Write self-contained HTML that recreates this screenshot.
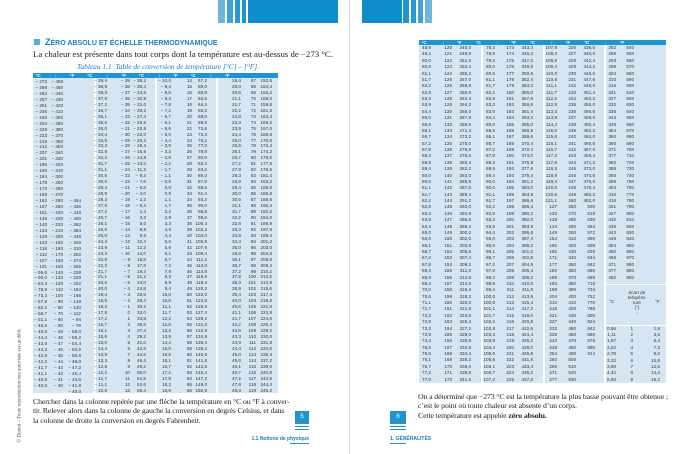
<!DOCTYPE html>
<html><head><meta charset="utf-8"><style>
*{margin:0;padding:0;box-sizing:border-box}
body{width:700px;height:454px;background:#fff;position:relative;overflow:hidden;font-family:"Liberation Serif",serif;color:#222}
.a{position:absolute}
.tb{position:absolute;background:#d5e6f2}
.hd{position:absolute;background:#1e95d0;color:#fff;font:bold 5px "Liberation Sans",sans-serif;}
.c{position:absolute;text-align:right;font-family:"Liberation Sans Narrow","Liberation Sans",sans-serif;font-size:4.6px;color:#333;white-space:pre}
.L .c{line-height:5.96px;top:5px}
.R .c{line-height:6.38px;top:5px}
.sep{position:absolute;top:0;bottom:0;width:2px;background:#fff}
.txt{font-size:7.8px;line-height:9.4px;color:#222;white-space:nowrap;letter-spacing:-0.12px}
</style></head><body>
<div class="a" style="left:218px;top:0;width:7px;height:23px;background:#6fb6dd"></div>
<div class="a" style="left:227px;top:0;width:6px;height:23px;background:#3fa3d6"></div>
<div class="a" style="left:235px;top:0;width:5px;height:23px;background:#2a9ad3"></div>
<div class="a" style="left:242px;top:0;width:4px;height:23px;background:#1e95d0"></div>
<div class="a" style="left:248px;top:0;width:90px;height:23px;background:#0e8ccb"></div>
<div class="a" style="left:362px;top:0;width:40px;height:23px;background:#0e8ccb"></div>
<div class="a" style="left:403px;top:0;width:6px;height:23px;background:#1e95d0"></div>
<div class="a" style="left:411px;top:0;width:5px;height:23px;background:#2a9ad3"></div>
<div class="a" style="left:418px;top:0;width:5px;height:23px;background:#3fa3d6"></div>
<div class="a" style="left:425px;top:0;width:7px;height:23px;background:#6fb6dd"></div>
<div class="a" style="left:349px;top:0;width:1px;height:454px;background:#ddd"></div>

<div class="a" style="left:34px;top:39px;width:6px;height:6px;background:#5aaedb"></div>
<div class="a" style="left:45px;top:37px;font:bold 7px 'Liberation Sans',sans-serif;color:#1a7dc0;white-space:nowrap"><span style="font-size:9px">Z</span>ÉRO ABSOLU ET ÉCHELLE THERMODYNAMIQUE</div>
<div class="a txt" style="left:33px;top:50px;font-size:8.8px;letter-spacing:0">La chaleur est présente dans tout corps dont la température est au-dessus de −273 °C.</div>
<div class="a" style="left:77px;top:62px;font:italic 7.4px 'Liberation Serif',serif;color:#1a7dc0;white-space:nowrap">Tableau 1.1&nbsp; Table de conversion de température [°C] – [°F].</div>

<div class="hd" style="left:33px;top:73px;width:245px;height:5px"></div>
<div class="tb L" style="left:33px;top:78px;width:245px;height:315px">
<div class="sep" style="left:61px"></div><div class="sep" style="left:122px"></div><div class="sep" style="left:183px"></div>
</div>
<div class="a L" style="left:33px;top:73px;width:245px;height:320px">
<div class="c" style="top:-0.5px;left:0;width:245px;line-height:5px;color:#fff;text-align:left;font-weight:bold">  °C           ↓          °F          °C           ↓          °F          °C           ↓          °F          °C           ↓          °F</div>
<div class="c" style="left:0;width:14px;top:6px">− 273
− 268
− 262
− 257
− 251
− 246
− 240
− 234
− 229
− 223
− 218
− 212
− 207
− 201
− 196
− 190
− 184
− 179
− 173
− 168
− 162
− 157
− 151
− 146
− 140
− 134
− 129
− 123
− 118
− 112
− 107
− 101
− 95,6
− 90,0
− 84,4
− 78,9
− 73,3
− 67,8
− 62,2
− 56,7
− 51,1
− 45,6
− 45,0
− 44,4
− 43,9
− 43,3
− 42,8
− 42,2
− 41,7
− 41,1
− 40,6
− 40,0</div>
<div class="c" style="left:0;width:30px;top:6px">− 459
− 450
− 440
− 430
− 420
− 410
− 400
− 390
− 380
− 370
− 360
− 350
− 340
− 330
− 320
− 310
− 300
− 290
− 280
− 270
− 260
− 250
− 240
− 230
− 220
− 210
− 200
− 190
− 180
− 170
− 160
− 150
− 140
− 130
− 120
− 110
− 100
− 90
− 80
− 70
− 60
− 50
− 49
− 48
− 47
− 46
− 45
− 44
− 43
− 42
− 41
− 40</div>
<div class="c" style="left:0;width:48px;top:6px">



















− 454
− 436
− 418
− 400
− 382
− 364
− 346
− 328
− 310
− 292
− 274
− 256
− 238
− 220
− 202
− 184
− 166
− 148
− 130
− 112
− 94
− 76
− 58,0
− 56,2
− 54,4
− 52,6
− 50,8
− 49,0
− 47,2
− 45,4
− 43,6
− 41,8
− 40,0</div>
<div class="c" style="left:61px;width:13px">− 39,4
− 38,9
− 38,3
− 37,8
− 37,2
− 36,7
− 36,1
− 35,6
− 35,0
− 34,4
− 33,9
− 33,3
− 32,8
− 32,2
− 31,7
− 31,1
− 30,6
− 30,0
− 29,4
− 28,9
− 28,3
− 27,8
− 27,2
− 26,7
− 26,1
− 25,6
− 25,0
− 24,4
− 23,9
− 23,3
− 22,8
− 22,2
− 21,7
− 21,1
− 20,6
− 20,0
− 19,4
− 18,9
− 18,3
− 17,8
− 17,2
− 16,7
− 16,1
− 15,6
− 15,0
− 14,4
− 13,9
− 13,3
− 12,8
− 12,2
− 11,7
− 11,1
− 10,6</div>
<div class="c" style="left:61px;width:36px">− 39
− 38
− 37
− 36
− 35
− 34
− 33
− 32
− 31
− 30
− 29
− 28
− 27
− 26
− 25
− 24
− 23
− 22
− 21
− 20
− 19
− 18
− 17
− 16
− 15
− 14
− 13
− 12
− 11
− 10
− 9
− 8
− 7
− 6
− 5
− 4
− 3
− 2
− 1
0
1
2
3
4
5
6
7
8
9
10
11
12
13</div>
<div class="c" style="left:61px;width:52px">− 38,2
− 36,4
− 34,6
− 32,8
− 31,0
− 29,2
− 27,4
− 25,6
− 23,8
− 22,0
− 20,2
− 18,4
− 16,6
− 14,8
− 13,0
− 11,2
− 9,4
− 7,6
− 5,8
− 4,0
− 2,2
− 0,4
1,4
3,2
5,0
6,8
8,6
10,4
12,2
14,0
15,8
17,6
19,4
21,2
23,0
24,8
26,6
28,4
30,2
32,0
33,8
35,6
37,4
39,2
41,0
42,8
44,6
46,4
48,2
50,0
51,8
53,6
55,4</div>
<div class="c" style="left:122px;width:16px">− 10,0
− 9,4
− 8,9
− 8,3
− 7,8
− 7,2
− 6,7
− 6,1
− 5,6
− 5,0
− 4,4
− 3,9
− 3,3
− 2,8
− 2,2
− 1,7
− 1,1
− 0,6
0,0
0,6
1,1
1,7
2,2
2,8
3,3
3,9
4,4
5,0
5,6
6,1
6,7
7,2
7,8
8,3
8,9
9,4
10,0
10,6
11,1
11,7
12,2
12,8
13,3
13,9
14,4
15,0
15,6
16,1
16,7
17,2
17,8
18,3
18,9</div>
<div class="c" style="left:122px;width:37px">14
15
16
17
18
19
20
21
22
23
24
25
26
27
28
29
30
31
32
33
34
35
36
37
38
39
40
41
42
43
44
45
46
47
48
49
50
51
52
53
54
55
56
57
58
59
60
61
62
63
64
65
66</div>
<div class="c" style="left:122px;width:52px">57,2
59,0
60,8
62,6
64,4
66,2
68,0
69,8
71,6
73,4
75,2
77,0
78,8
80,6
82,4
84,2
86,0
87,8
89,6
91,4
93,2
95,0
96,8
98,6
100,4
102,2
104,0
105,8
107,6
109,4
111,2
113,0
114,8
116,6
118,4
120,2
122,0
123,8
125,6
127,4
129,2
131,0
132,8
134,6
136,4
138,2
140,0
141,8
143,6
145,4
147,2
149,0
150,8</div>
<div class="c" style="left:183px;width:25px">19,4
20,0
20,6
21,1
21,7
22,2
22,8
23,3
23,9
24,4
25,0
25,6
26,1
26,7
27,2
27,8
28,3
28,9
29,4
30,0
30,6
31,1
31,7
32,2
32,8
33,3
33,9
34,4
35,0
35,6
36,1
36,7
37,2
37,8
38,3
38,9
39,4
40,0
40,6
41,1
41,7
42,2
42,8
43,3
43,9
44,4
45,0
45,6
46,1
46,7
47,2
47,8
48,3</div>
<div class="c" style="left:183px;width:40px">67
68
69
70
71
72
73
74
75
76
77
78
79
80
81
82
83
84
85
86
87
88
89
90
91
92
93
94
95
96
97
98
99
100
101
102
103
104
105
106
107
108
109
110
111
112
113
114
115
116
117
118
119</div>
<div class="c" style="left:183px;width:56px">152,6
154,4
156,2
158,0
159,8
161,6
163,4
165,2
167,0
168,8
170,6
172,4
174,2
176,0
177,8
179,6
181,4
183,2
185,0
186,8
188,6
190,4
192,2
194,0
195,8
197,6
199,4
201,2
203,0
204,8
206,6
208,4
210,2
212,0
213,8
215,6
217,4
219,2
221,0
222,8
224,6
226,4
228,2
230,0
231,8
233,6
235,4
237,2
239,0
240,8
242,6
244,4
246,2</div>
</div>

<div class="hd" style="left:419px;top:40px;width:247px;height:5px"></div>
<div class="tb R" style="left:419px;top:45px;width:247px;height:338px">
<div class="sep" style="left:62px"></div><div class="sep" style="left:124px"></div><div class="sep" style="left:185px"></div>
<div class="a" style="left:187px;top:239px;width:60px;height:1px;background:#fff"></div>
<div class="a" style="left:187px;top:280px;width:60px;height:1px;background:#fff"></div>
</div>
<div class="a R" style="left:419px;top:40px;width:247px;height:345px">
<div class="c" style="top:-0.5px;left:0;width:247px;line-height:5px;color:#fff;text-align:left;font-weight:bold">  °C            ↓          °F           °C            ↓          °F           °C            ↓          °F           °C            ↓          °F</div>
<div class="c" style="left:0;width:12px">48,9
49,4
50,0
50,6
51,1
51,7
52,2
52,8
53,3
53,9
54,4
55,0
55,6
56,1
56,7
57,2
57,8
58,3
58,9
59,4
60,0
60,6
61,1
61,7
62,2
62,8
63,3
63,9
64,4
65,0
65,6
66,1
66,7
67,2
67,8
68,3
68,9
69,4
70,0
70,6
71,1
71,7
72,2
72,8
73,3
73,9
74,4
75,0
75,6
76,1
76,7
77,2
77,8</div>
<div class="c" style="left:0;width:33px">120
121
122
123
124
125
126
127
128
129
130
131
132
133
134
135
136
137
138
139
140
141
142
143
144
145
146
147
148
149
150
151
152
153
154
155
156
157
158
159
160
161
162
163
164
165
166
167
168
169
170
171
172</div>
<div class="c" style="left:0;width:52px">248,0
249,8
251,6
253,4
255,2
257,0
258,8
260,6
262,4
264,2
266,0
267,8
269,6
271,4
273,2
275,0
276,8
278,6
280,4
282,2
284,0
285,8
287,6
289,4
291,2
293,0
294,8
296,6
298,4
300,2
302,0
303,8
305,6
307,4
309,2
311,0
312,8
314,6
316,4
318,2
320,0
321,8
323,6
325,4
327,2
329,0
330,8
332,6
334,4
336,2
338,0
339,8
341,6</div>
<div class="c" style="left:62px;width:14px">78,3
78,9
79,4
80,0
80,6
81,1
81,7
82,2
82,8
83,3
83,9
84,4
85,0
85,6
86,1
86,7
87,2
87,8
88,3
88,9
89,4
90,0
90,6
91,1
91,7
92,2
92,8
93,3
93,9
94,4
95,0
95,6
96,1
96,7
97,2
97,8
98,3
98,9
99,4
100,0
100,6
101,1
101,7
102,2
102,8
103,3
103,9
104,4
105,0
105,6
106,1
106,7
107,2</div>
<div class="c" style="left:62px;width:33px">173
174
175
176
177
178
179
180
181
182
183
184
185
186
187
188
189
190
191
192
193
194
195
196
197
198
199
200
201
202
203
204
205
206
207
208
209
210
211
212
213
214
215
216
217
218
219
220
221
222
223
224
225</div>
<div class="c" style="left:62px;width:52px">343,4
345,2
347,0
348,8
350,6
352,4
354,2
356,0
357,8
359,6
361,4
363,2
365,0
366,8
368,6
370,4
372,2
374,0
375,8
377,6
379,4
381,2
383,0
384,8
386,6
388,4
390,2
392,0
393,8
395,6
397,4
399,2
401,0
402,8
404,6
406,4
408,2
410,0
411,8
413,6
415,4
417,2
419,0
420,8
422,6
424,4
426,2
428,0
429,8
431,6
433,4
435,2
437,0</div>
<div class="c" style="left:124px;width:14px">107,8
108,3
108,9
109,4
110,0
110,6
111,1
111,7
112,2
112,8
113,3
113,9
114,4
115,0
115,6
116,1
116,7
117,2
117,8
118,3
118,9
119,4
120,0
120,6
121,1
127
132
138
143
149
154
160
166
171
177
182
188
193
199
204
210
216
221
227
232
238
243
249
254
260
266
271
277</div>
<div class="c" style="left:124px;width:33px">226
227
228
229
230
231
232
233
234
235
236
237
238
239
240
241
242
243
244
245
246
247
248
249
250
260
270
280
290
300
310
320
330
340
350
360
370
380
390
400
410
420
430
440
450
460
470
480
490
500
510
520
530</div>
<div class="c" style="left:124px;width:52px">438,8
440,6
442,4
444,2
446,0
447,8
449,6
451,4
453,2
455,0
456,8
458,6
460,4
462,2
464,0
465,8
467,6
469,4
471,2
473,0
474,8
476,6
478,4
480,2
482,0
500
518
536
554
572
590
608
626
644
662
680
698
716
734
752
770
788
806
824
842
860
878
896
914</div>
<div class="c" style="left:185px;width:12px">282
288
293
299
304
310
316
321
327
332
338
343
349
354
360
366
371
377
382
388
393
399
404
410
416
421
427
432
438
443
449
454
460
466
471
477
482</div>
<div class="c" style="left:185px;width:30px">540
550
560
570
580
590
600
610
620
630
640
650
660
670
680
690
700
710
720
730
740
750
760
770
780
790
800
810
820
830
840
850
860
870
880
890
900</div>
<div class="c" style="left:190px;top:259px;line-height:6px">°C</div>
<div class="c" style="left:207px;top:250px;line-height:5px;text-align:center;width:22px">écart de
tempéra-
ture
(°)
↓</div>
<div class="c" style="left:236px;top:259px;line-height:6px">°F</div>
<div class="c" style="left:185px;width:12px;top:285.7px">0,56
1,11
1,67
2,22
2,78
3,33
3,89
4,44
5,00</div>
<div class="c" style="left:185px;width:29px;top:285.7px">1
2
3
4
5
6
7
8
9</div>
<div class="c" style="left:185px;width:56px;top:285.7px">1,8
3,6
5,4
7,2
9,0
10,8
12,6
14,4
16,2</div>
</div>

<div class="a txt" style="left:33px;top:397px">Chercher dans la colonne repérée par une flèche la température en °C ou °F à conver-<br>tir. Relever alors dans la colonne de gauche la conversion en degrés Celsius, et dans<br>la colonne de droite la conversion en degrés Fahrenheit.</div>
<div class="a txt" style="left:418px;top:392px">On a déterminé que −273 °C est la température la plus basse pouvant être obtenue ;<br>c’est le point où toute chaleur est absente d’un corps.<br>Cette température est appelée <b>zéro absolu.</b></div>

<div class="a" style="left:295px;top:411px;width:14px;height:13px;background:#1e95d0;color:#fff;font:6px 'Liberation Sans',sans-serif;text-align:center;line-height:13px">5</div>
<div class="a" style="left:295px;top:426px;width:14px;height:1px;background:#1e95d0"></div>
<div class="a" style="left:295px;top:429px;width:14px;height:1px;background:#1e95d0"></div>
<div class="a" style="left:250px;top:436px;width:59px;text-align:right;font:bold 5px 'Liberation Sans Narrow','Liberation Sans',sans-serif;color:#1a7dc0;white-space:nowrap">1.1 Notions de physique</div>
<div class="a" style="left:290px;top:443px;width:19px;height:1px;background:#1e95d0"></div>

<div class="a" style="left:390px;top:411px;width:16px;height:13px;background:#1e95d0;color:#fff;font:6px 'Liberation Sans',sans-serif;text-align:center;line-height:13px">6</div>
<div class="a" style="left:390px;top:426px;width:16px;height:1px;background:#1e95d0"></div>
<div class="a" style="left:390px;top:429px;width:16px;height:1px;background:#1e95d0"></div>
<div class="a" style="left:390px;top:436px;font:bold 5px 'Liberation Sans Narrow','Liberation Sans',sans-serif;color:#1a7dc0;white-space:nowrap">1. GÉNÉRALITÉS</div>
<div class="a" style="left:390px;top:443px;width:16px;height:1px;background:#1e95d0"></div>

<div class="a" style="left:-55px;top:365px;width:150px;transform:rotate(-90deg);font:5px 'Liberation Serif',serif;color:#444;white-space:nowrap">© Dunod – Toute reproduction non autorisée est un délit.</div>
</body></html>
